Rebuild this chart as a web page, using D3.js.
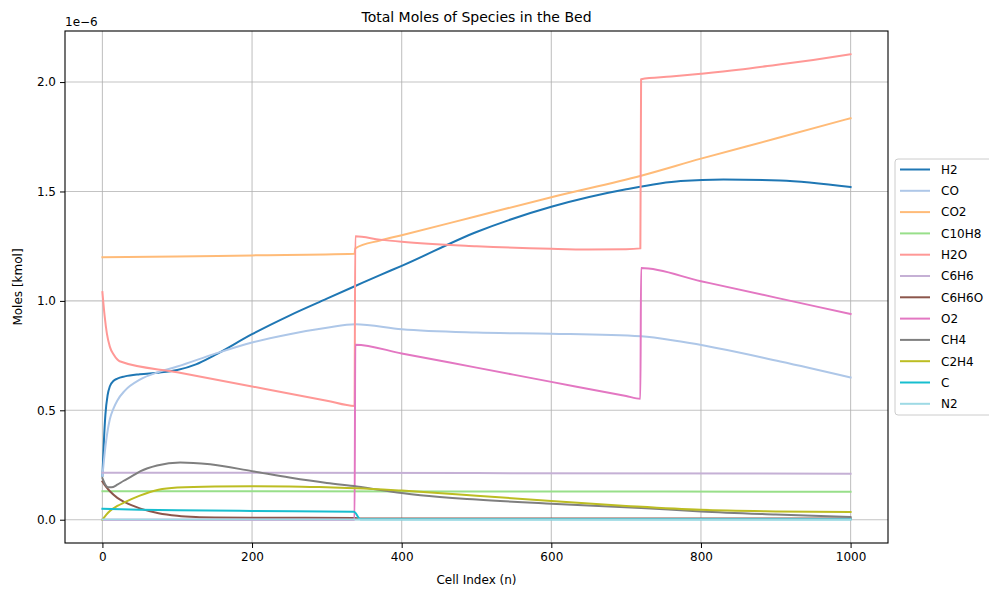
<!DOCTYPE html>
<html>
<head>
<meta charset="utf-8">
<script src="https://cdn.jsdelivr.net/npm/d3@7"></script>
<style>
  html, body { margin: 0; padding: 0; background: #fff; }
  svg { display: block; font-family: "DejaVu Sans", sans-serif; }
</style>
</head>
<body>
<svg id="chart" width="989" height="589"></svg>
<script>
// ---- data (values in units of 1e-6 kmol), [cell index, value] ----
const seriesNames = ["H2","CO","CO2","C10H8","H2O","C6H6","C6H6O","O2","CH4","C2H4","C","N2"];
const seriesColors = ["#1f77b4","#aec7e8","#ffbb78","#98df8a","#ff9896","#c5b0d5","#8c564b","#e377c2","#7f7f7f","#bcbd22","#17becf","#9edae5"];

const H2 = [[0,0.2],[2,0.36],[4,0.48],[7,0.57],[10,0.61],[15,0.635],[20,0.645],[30,0.655],[50,0.665],[75,0.672],[100,0.684],[125,0.71],[150,0.752],[200,0.848],[250,0.933],[300,1.01],[338,1.068],[371,1.118],[400,1.16],[500,1.315],[600,1.43],[700,1.51],[773,1.548],[830,1.555],[906,1.55],[1000,1.52]];
const CO = [[0,0.2],[2,0.27],[5,0.36],[10,0.46],[15,0.51],[20,0.545],[30,0.59],[50,0.64],[75,0.675],[100,0.70],[150,0.758],[200,0.81],[250,0.848],[300,0.877],[338,0.893],[400,0.87],[500,0.855],[600,0.85],[720,0.838],[773,0.814],[906,0.723],[1000,0.65]];
const CO2 = [[0,1.2],[100,1.203],[200,1.208],[337,1.215],[338,1.24],[371,1.276],[400,1.3],[500,1.387],[600,1.474],[720,1.572],[800,1.65],[900,1.742],[1000,1.835]];
const C10H8 = [[0,0.13],[500,0.129],[1000,0.128]];
const H2O = [[0,1.04],[3,0.93],[6,0.85],[10,0.79],[15,0.755],[20,0.732],[23,0.724],[100,0.674],[200,0.609],[300,0.544],[337,0.52],[338,1.295],[371,1.28],[400,1.27],[500,1.25],[600,1.238],[650,1.235],[700,1.236],[719,1.24],[720,2.013],[760,2.025],[800,2.038],[850,2.056],[900,2.078],[950,2.101],[1000,2.127]];
const C6H6 = [[0,0.215],[500,0.213],[1000,0.21]];
const C6H6O = [[0,0.175],[5,0.15],[10,0.13],[20,0.1],[30,0.08],[50,0.052],[75,0.03],[100,0.018],[125,0.012],[150,0.01],[200,0.009],[337,0.008],[345,0.005],[1000,0.005]];
const O2 = [[0,0],[337,0],[338,0.80],[400,0.76],[500,0.695],[600,0.63],[700,0.565],[719,0.553],[720,1.15],[800,1.09],[900,1.015],[1000,0.94]];
const CH4 = [[0,0.19],[4,0.16],[8,0.148],[12,0.148],[20,0.16],[28,0.177],[40,0.2],[51,0.222],[73,0.248],[104,0.262],[144,0.253],[200,0.222],[250,0.193],[300,0.168],[340,0.152],[400,0.122],[425,0.112],[500,0.092],[600,0.073],[720,0.054],[800,0.038],[900,0.024],[1000,0.012]];
const C2H4 = [[0,0],[5,0.022],[10,0.04],[20,0.063],[30,0.08],[50,0.11],[75,0.137],[100,0.147],[150,0.152],[200,0.153],[250,0.152],[300,0.148],[340,0.144],[400,0.133],[500,0.11],[600,0.085],[700,0.063],[800,0.045],[900,0.038],[1000,0.035]];
const C = [[0,0.05],[50,0.045],[100,0.043],[200,0.04],[336,0.036],[345,0.002],[1000,0.002]];
const N2 = [[0,0.001],[1000,0.001]];

const seriesData = [H2, CO, CO2, C10H8, H2O, C6H6, C6H6O, O2, CH4, C2H4, C, N2];

const xTicks = [0, 200, 400, 600, 800, 1000];
const yTicks = [0.0, 0.5, 1.0, 1.5, 2.0];

// ---- layout ----
const svg = d3.select("#chart");
const plot = { left: 65, right: 888, top: 31, bottom: 543 };

const x = d3.scaleLinear().domain([-50, 1050]).range([plot.left, plot.right]);
const y = d3.scaleLinear().domain([-0.1064, 2.2334]).range([plot.bottom, plot.top]);

// grid
const grid = svg.append("g");
grid.selectAll("line.vx").data(xTicks).enter().append("line")
  .attr("x1", d => x(d)).attr("x2", d => x(d))
  .attr("y1", plot.top).attr("y2", plot.bottom)
  .attr("stroke", "#b0b0b0").attr("stroke-width", 1.1).attr("opacity", 0.75);
grid.selectAll("line.hy").data(yTicks).enter().append("line")
  .attr("y1", d => y(d)).attr("y2", d => y(d))
  .attr("x1", plot.left).attr("x2", plot.right)
  .attr("stroke", "#b0b0b0").attr("stroke-width", 1.1).attr("opacity", 0.75);

// clip
svg.append("clipPath").attr("id", "clip").append("rect")
  .attr("x", plot.left).attr("y", plot.top)
  .attr("width", plot.right - plot.left).attr("height", plot.bottom - plot.top);

const line = d3.line()
  .x(d => x(d[0])).y(d => y(d[1]))
  .curve(d3.curveMonotoneX);

const lines = svg.append("g").attr("clip-path", "url(#clip)");
seriesData.forEach((s, i) => {
  lines.append("path")
    .attr("d", line(s))
    .attr("fill", "none")
    .attr("stroke", seriesColors[i])
    .attr("stroke-width", 2)
    .attr("stroke-linejoin", "round")
    .attr("stroke-linecap", "square");
});

// axes
const xAxis = d3.axisBottom(x).tickValues(xTicks).tickFormat(d3.format("d")).tickSizeOuter(0).tickSize(5).tickPadding(4);
const yAxis = d3.axisLeft(y).tickValues(yTicks).tickFormat(d3.format(".1f")).tickSizeOuter(0).tickSize(5).tickPadding(4);

const gx = svg.append("g").attr("transform", `translate(0,${plot.bottom})`).call(xAxis);
const gy = svg.append("g").attr("transform", `translate(${plot.left},0)`).call(yAxis);
[gx, gy].forEach(g => {
  g.select(".domain").remove();
  g.selectAll("line").attr("stroke", "#000").attr("stroke-width", 1);
  g.selectAll("text").attr("fill", "#000").style("font-size", "12px").style("font-family", "DejaVu Sans, sans-serif");
});

// frame
svg.append("rect")
  .attr("x", plot.left).attr("y", plot.top)
  .attr("width", plot.right - plot.left).attr("height", plot.bottom - plot.top)
  .attr("fill", "none").attr("stroke", "#000").attr("stroke-width", 1.1);

// texts
svg.append("text").attr("x", (plot.left + plot.right) / 2).attr("y", 22)
  .attr("text-anchor", "middle").style("font-size", "14px").text("Total Moles of Species in the Bed");
svg.append("text").attr("x", (plot.left + plot.right) / 2).attr("y", 584)
  .attr("text-anchor", "middle").style("font-size", "12px").text("Cell Index (n)");
svg.append("text").attr("transform", `translate(22,${(plot.top + plot.bottom) / 2}) rotate(-90)`)
  .attr("text-anchor", "middle").style("font-size", "12px").text("Moles [kmol]");
svg.append("text").attr("x", plot.left).attr("y", 26)
  .attr("text-anchor", "start").style("font-size", "12px").text("1e\u22126");

// legend
const lg = svg.append("g").attr("transform", "translate(895,159)");
lg.append("rect").attr("x", 0).attr("y", 0).attr("width", 110).attr("height", 256)
  .attr("rx", 3).attr("fill", "#fff").attr("fill-opacity", 0.8)
  .attr("stroke", "#cccccc").attr("stroke-width", 1);
seriesNames.forEach((name, i) => {
  const yy = 10.5 + i * 21.3;
  lg.append("line").attr("x1", 5).attr("x2", 35).attr("y1", yy).attr("y2", yy)
    .attr("stroke", seriesColors[i]).attr("stroke-width", 2);
  lg.append("text").attr("x", 46).attr("y", yy + 4.3)
    .style("font-size", "12px").text(name);
});
</script>
</body>
</html>
